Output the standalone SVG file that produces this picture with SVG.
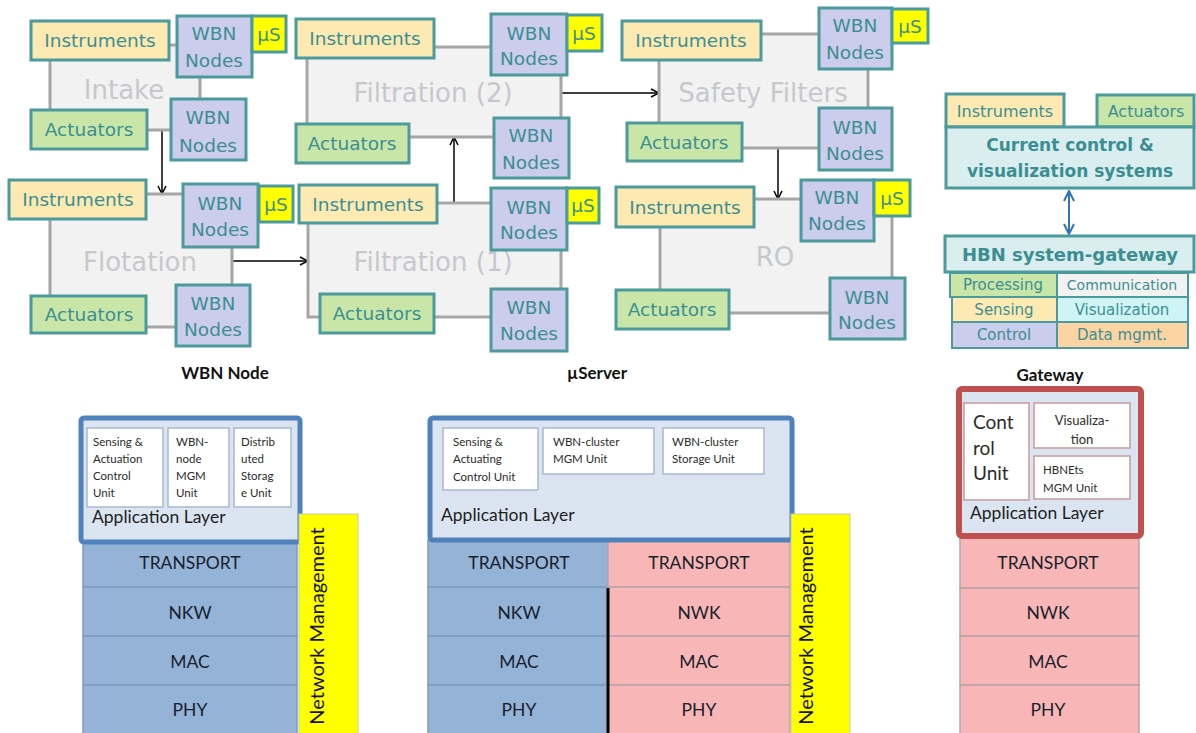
<svg xmlns="http://www.w3.org/2000/svg" width="1196" height="733" viewBox="0 0 1196 733">
  <defs>
    <marker id="chev" viewBox="0 0 10 10" refX="9" refY="5" markerWidth="10" markerHeight="10" markerUnits="userSpaceOnUse" orient="auto-start-reverse">
      <path d="M1,1 L9,5 L1,9" fill="none" stroke="#000" stroke-width="1.5"/>
    </marker>
    <marker id="chevBlue" viewBox="0 0 12 12" refX="11" refY="6" markerWidth="12" markerHeight="12" markerUnits="userSpaceOnUse" orient="auto-start-reverse">
      <path d="M1,1 L11,6 L1,11" fill="none" stroke="#2e75b6" stroke-width="2"/>
    </marker>
    <style>
      .blk{fill:#f2f2f2;stroke:#a6a6a6;stroke-width:3}
      .blkT{font-family:"DejaVu Sans",sans-serif;font-size:26px;fill:#c6c9cc;text-anchor:middle}
      .ins{fill:#fde9b2;stroke:#4b9a9c;stroke-width:3}
      .act{fill:#c9e6a8;stroke:#4b9a9c;stroke-width:3}
      .wbn{fill:#ccccec;stroke:#4b9a9c;stroke-width:3}
      .us{fill:#ffff00;stroke:#4b9a9c;stroke-width:3}
      .t{font-family:"DejaVu Sans",sans-serif;font-size:18.5px;fill:#3b8f92;text-anchor:middle}
      .ts{font-family:"DejaVu Sans",sans-serif;font-size:16px;fill:#3b8f92;text-anchor:middle}
      .tc{font-family:"DejaVu Sans",sans-serif;font-size:15px;fill:#3b8f92;text-anchor:middle}
      .tb{font-family:"DejaVu Sans",sans-serif;font-size:17px;font-weight:bold;fill:#3b8f92;text-anchor:middle}
      .sys{fill:#daeef0;stroke:#4b9a9c;stroke-width:3}
      .cell{stroke:#4b9a9c;stroke-width:2}
      .conn{stroke:#000;stroke-width:1.5;fill:none}
      .title{font-family:Lato,"Open Sans",sans-serif;font-size:17px;font-weight:bold;fill:#111;text-anchor:middle}
      .appB{fill:#dbe5f1;stroke:#4f81bd;stroke-width:5}
      .appR{fill:#dbe5f1;stroke:#c0504d;stroke-width:6}
      .unitB{fill:#fff;stroke:#a9b9cf;stroke-width:1.5}
      .unitR{fill:#fff;stroke:#c99a9a;stroke-width:1.5}
      .u{font-family:Lato,"Open Sans",sans-serif;font-size:11.5px;fill:#2b2b2b}
      .app{font-family:Lato,"Open Sans",sans-serif;font-size:17.5px;fill:#1f1f1f}
      .lb{fill:#95b3d7;stroke:#7f9bbf;stroke-width:1.5}
      .lp{fill:#f8b7b6;stroke:#b8a3ae;stroke-width:1.5}
      .lt{font-family:Lato,"Open Sans",sans-serif;font-size:17.5px;fill:#17212d;text-anchor:middle}
      .nm{fill:#ffff00;stroke:#c8c8b0;stroke-width:1}
      .nmt{font-family:Lato,"Open Sans",sans-serif;font-size:20px;fill:#111;text-anchor:middle}
    </style>
  </defs>

  <rect width="1196" height="733" fill="#fff"/>

  <!-- process connectors -->
  <g id="connectors">
    <line class="conn" x1="162" y1="130" x2="162" y2="194" marker-end="url(#chev)"/>
    <line class="conn" x1="232" y1="261" x2="308" y2="261" marker-end="url(#chev)"/>
    <line class="conn" x1="454" y1="203" x2="454" y2="137" marker-end="url(#chev)"/>
    <line class="conn" x1="561" y1="93" x2="659" y2="93" marker-end="url(#chev)"/>
    <line class="conn" x1="778" y1="148" x2="778" y2="199" marker-end="url(#chev)"/>
    <line x1="1069" y1="191" x2="1069" y2="234" stroke="#2e75b6" stroke-width="2" marker-start="url(#chevBlue)" marker-end="url(#chevBlue)"/>
  </g>

  <!-- Intake -->
  <g id="intake">
    <rect class="blk" x="50" y="45" width="150" height="85"/>
    <text class="blkT" x="124" y="99">Intake</text>
    <rect class="ins" x="31" y="21" width="138" height="39"/>
    <text class="t" x="100" y="47">Instruments</text>
    <rect class="wbn" x="177" y="16" width="75" height="61"/>
    <text class="t" x="214" y="40">WBN</text>
    <text class="t" x="214" y="67">Nodes</text>
    <rect class="us" x="252" y="16" width="34" height="36"/>
    <text class="t" x="269" y="41">µS</text>
    <rect class="act" x="31" y="110" width="116" height="39"/>
    <text class="t" x="89" y="136">Actuators</text>
    <rect class="wbn" x="171" y="99" width="75" height="61"/>
    <text class="t" x="208" y="124">WBN</text>
    <text class="t" x="208" y="152">Nodes</text>
  </g>

  <!-- Flotation -->
  <g id="flotation">
    <rect class="blk" x="50" y="194" width="182" height="133"/>
    <text class="blkT" x="140" y="271">Flotation</text>
    <rect class="ins" x="9" y="180" width="137" height="39"/>
    <text class="t" x="78" y="206">Instruments</text>
    <rect class="wbn" x="183" y="184" width="75" height="63"/>
    <text class="t" x="220" y="210">WBN</text>
    <text class="t" x="220" y="236">Nodes</text>
    <rect class="us" x="259" y="186" width="34" height="36"/>
    <text class="t" x="276" y="211">µS</text>
    <rect class="act" x="31" y="296" width="115" height="37"/>
    <text class="t" x="89" y="321">Actuators</text>
    <rect class="wbn" x="176" y="285" width="74" height="61"/>
    <text class="t" x="213" y="310">WBN</text>
    <text class="t" x="213" y="336">Nodes</text>
  </g>

  <!-- Filtration (2) -->
  <g id="filtration2">
    <rect class="blk" x="307" y="47" width="254" height="90"/>
    <text class="blkT" x="433" y="102">Filtration (2)</text>
    <rect class="ins" x="296" y="19" width="138" height="39"/>
    <text class="t" x="365" y="45">Instruments</text>
    <rect class="wbn" x="491" y="14" width="76" height="61"/>
    <text class="t" x="529" y="40">WBN</text>
    <text class="t" x="529" y="65">Nodes</text>
    <rect class="us" x="567" y="15" width="35" height="36"/>
    <text class="t" x="584" y="40">µS</text>
    <rect class="act" x="296" y="124" width="113" height="39"/>
    <text class="t" x="352" y="150">Actuators</text>
    <rect class="wbn" x="494" y="118" width="75" height="60"/>
    <text class="t" x="531" y="142">WBN</text>
    <text class="t" x="531" y="169">Nodes</text>
  </g>

  <!-- Filtration (1) -->
  <g id="filtration1">
    <rect class="blk" x="308" y="203" width="253" height="114"/>
    <text class="blkT" x="433" y="271">Filtration (1)</text>
    <rect class="ins" x="299" y="185" width="138" height="38"/>
    <text class="t" x="368" y="211">Instruments</text>
    <rect class="wbn" x="491" y="188" width="76" height="62"/>
    <text class="t" x="529" y="214">WBN</text>
    <text class="t" x="529" y="239">Nodes</text>
    <rect class="us" x="567" y="188" width="32" height="35"/>
    <text class="t" x="583" y="212">µS</text>
    <rect class="act" x="320" y="294" width="114" height="39"/>
    <text class="t" x="377" y="320">Actuators</text>
    <rect class="wbn" x="491" y="289" width="76" height="62"/>
    <text class="t" x="529" y="314">WBN</text>
    <text class="t" x="529" y="340">Nodes</text>
  </g>

  <!-- Safety Filters -->
  <g id="safety-filters">
    <rect class="blk" x="659" y="34" width="209" height="114"/>
    <text class="blkT" x="763" y="102">Safety Filters</text>
    <rect class="ins" x="622" y="21" width="139" height="39"/>
    <text class="t" x="691" y="47">Instruments</text>
    <rect class="wbn" x="819" y="8" width="73" height="61"/>
    <text class="t" x="855" y="32">WBN</text>
    <text class="t" x="855" y="59">Nodes</text>
    <rect class="us" x="892" y="9" width="36" height="34"/>
    <text class="t" x="910" y="33">µS</text>
    <rect class="act" x="627" y="123" width="115" height="38"/>
    <text class="t" x="684" y="149">Actuators</text>
    <rect class="wbn" x="819" y="108" width="73" height="62"/>
    <text class="t" x="855" y="134">WBN</text>
    <text class="t" x="855" y="160">Nodes</text>
  </g>

  <!-- RO -->
  <g id="ro">
    <rect class="blk" x="660" y="199" width="232" height="114"/>
    <text class="blkT" x="775" y="266">RO</text>
    <rect class="ins" x="616" y="187" width="138" height="40"/>
    <text class="t" x="685" y="214">Instruments</text>
    <rect class="wbn" x="801" y="180" width="73" height="61"/>
    <text class="t" x="837" y="204">WBN</text>
    <text class="t" x="837" y="230">Nodes</text>
    <rect class="us" x="874" y="180" width="36" height="36"/>
    <text class="t" x="892" y="205">µS</text>
    <rect class="act" x="616" y="290" width="113" height="39"/>
    <text class="t" x="672" y="316">Actuators</text>
    <rect class="wbn" x="830" y="278" width="75" height="61"/>
    <text class="t" x="867" y="304">WBN</text>
    <text class="t" x="867" y="329">Nodes</text>
  </g>

  <!-- Existing control & visualization systems -->
  <g id="current-systems">
    <rect class="ins" x="946" y="94" width="118" height="33"/>
    <text class="ts" x="1005" y="117">Instruments</text>
    <rect class="act" x="1097" y="95" width="97" height="32"/>
    <text class="ts" x="1146" y="117">Actuators</text>
    <rect class="sys" x="946" y="127" width="248" height="61"/>
    <text class="tb" x="1070" y="151">Current control &amp;</text>
    <text class="tb" x="1070" y="177">visualization systems</text>
  </g>

  <!-- HBN system gateway -->
  <g id="hbn-gateway">
    <rect class="sys" x="945" y="236" width="249" height="36"/>
    <text class="tb" x="1070" y="261" style="font-size:18px">HBN system-gateway</text>
    <rect class="cell" x="950" y="273" width="107" height="24" fill="#c9e6a8"/>
    <rect class="cell" x="1057" y="273" width="131" height="24" fill="#f2f2f2"/>
    <rect class="cell" x="952" y="297" width="105" height="25" fill="#fde9b2"/>
    <rect class="cell" x="1057" y="297" width="131" height="25" fill="#d0f4f6"/>
    <rect class="cell" x="952" y="322" width="105" height="26" fill="#ccccec"/>
    <rect class="cell" x="1057" y="322" width="131" height="26" fill="#fcd4a4"/>
    <text class="tc" x="1003" y="290">Processing</text>
    <text class="tc" x="1122" y="290" style="font-size:14px">Communication</text>
    <text class="tc" x="1004" y="315">Sensing</text>
    <text class="tc" x="1122" y="315">Visualization</text>
    <text class="tc" x="1004" y="340">Control</text>
    <text class="tc" x="1122" y="340">Data mgmt.</text>
  </g>

  <!-- WBN Node protocol stack -->
  <g id="wbn-node-stack">
    <text class="title" x="225" y="379">WBN Node</text>
    <rect class="lb" x="83" y="540" width="214" height="47"/>
    <rect class="lb" x="83" y="587" width="214" height="49"/>
    <rect class="lb" x="83" y="636" width="214" height="49"/>
    <rect class="lb" x="83" y="685" width="214" height="50"/>
    <text class="lt" x="190" y="569">TRANSPORT</text>
    <text class="lt" x="190" y="619">NKW</text>
    <text class="lt" x="190" y="668">MAC</text>
    <text class="lt" x="190" y="716">PHY</text>
    <rect class="appB" x="81" y="418" width="219" height="124" rx="3"/>
    <rect class="unitB" x="87" y="428" width="76" height="79"/>
    <rect class="unitB" x="168" y="428" width="61" height="79"/>
    <rect class="unitB" x="234" y="428" width="57" height="79"/>
    <text class="u" x="93" y="446">Sensing &amp;</text>
    <text class="u" x="93" y="463">Actuation</text>
    <text class="u" x="93" y="480">Control</text>
    <text class="u" x="93" y="497">Unit</text>
    <text class="u" x="176" y="446">WBN-</text>
    <text class="u" x="176" y="463">node</text>
    <text class="u" x="176" y="480">MGM</text>
    <text class="u" x="176" y="497">Unit</text>
    <text class="u" x="241" y="446">Distrib</text>
    <text class="u" x="241" y="463">uted</text>
    <text class="u" x="241" y="480">Storag</text>
    <text class="u" x="241" y="497">e Unit</text>
    <text class="app" x="92" y="523">Application Layer</text>
    <rect class="nm" x="299" y="514" width="59" height="221"/>
    <text class="nmt" transform="translate(324,626) rotate(-90)">Network Management</text>
  </g>

  <!-- µServer protocol stack -->
  <g id="userver-stack">
    <text class="title" x="597" y="379">µServer</text>
    <rect class="lb" x="428" y="540" width="180" height="47"/>
    <rect class="lb" x="428" y="587" width="180" height="49"/>
    <rect class="lb" x="428" y="636" width="180" height="49"/>
    <rect class="lb" x="428" y="685" width="180" height="50"/>
    <rect class="lp" x="608" y="540" width="182" height="47"/>
    <rect class="lp" x="608" y="587" width="182" height="49"/>
    <rect class="lp" x="608" y="636" width="182" height="49"/>
    <rect class="lp" x="608" y="685" width="182" height="50"/>
    <line x1="608" y1="588" x2="608" y2="733" stroke="#000" stroke-width="3"/>
    <text class="lt" x="519" y="569">TRANSPORT</text>
    <text class="lt" x="519" y="619">NKW</text>
    <text class="lt" x="519" y="668">MAC</text>
    <text class="lt" x="519" y="716">PHY</text>
    <text class="lt" x="699" y="569">TRANSPORT</text>
    <text class="lt" x="699" y="619">NWK</text>
    <text class="lt" x="699" y="668">MAC</text>
    <text class="lt" x="699" y="716">PHY</text>
    <rect class="appB" x="430" y="418" width="362" height="122" rx="3"/>
    <rect class="unitB" x="443" y="428" width="95" height="62"/>
    <rect class="unitB" x="543" y="428" width="111" height="46"/>
    <rect class="unitB" x="663" y="428" width="101" height="46"/>
    <text class="u" x="453" y="446">Sensing &amp;</text>
    <text class="u" x="453" y="463">Actuating</text>
    <text class="u" x="453" y="481">Control Unit</text>
    <text class="u" x="553" y="446">WBN-cluster</text>
    <text class="u" x="553" y="463">MGM Unit</text>
    <text class="u" x="672" y="446">WBN-cluster</text>
    <text class="u" x="672" y="463">Storage Unit</text>
    <text class="app" x="441" y="521">Application Layer</text>
    <rect class="nm" x="791" y="514" width="59" height="221"/>
    <text class="nmt" transform="translate(813,626) rotate(-90)">Network Management</text>
  </g>

  <!-- Gateway protocol stack -->
  <g id="gateway-stack">
    <text class="title" x="1050" y="381">Gateway</text>
    <rect class="lp" x="960" y="538" width="179" height="50"/>
    <rect class="lp" x="960" y="588" width="179" height="48"/>
    <rect class="lp" x="960" y="636" width="179" height="49"/>
    <rect class="lp" x="960" y="685" width="179" height="50"/>
    <text class="lt" x="1048" y="569">TRANSPORT</text>
    <text class="lt" x="1048" y="619">NWK</text>
    <text class="lt" x="1048" y="668">MAC</text>
    <text class="lt" x="1048" y="716">PHY</text>
    <rect class="appR" x="959" y="389" width="182" height="147" rx="3"/>
    <rect class="unitR" x="964" y="403" width="65" height="97"/>
    <rect class="unitR" x="1034" y="403" width="96" height="45"/>
    <rect class="unitR" x="1034" y="456" width="96" height="43"/>
    <text class="u" x="973" y="429" style="font-size:19px">Cont</text>
    <text class="u" x="973" y="455" style="font-size:19px">rol</text>
    <text class="u" x="973" y="480" style="font-size:19px">Unit</text>
    <text class="u" x="1082" y="425" text-anchor="middle" style="font-size:13px">Visualiza-</text>
    <text class="u" x="1082" y="444" text-anchor="middle" style="font-size:13px">tion</text>
    <text class="u" x="1043" y="474">HBNEts</text>
    <text class="u" x="1043" y="492">MGM Unit</text>
    <text class="app" x="970" y="519">Application Layer</text>
  </g>
</svg>
